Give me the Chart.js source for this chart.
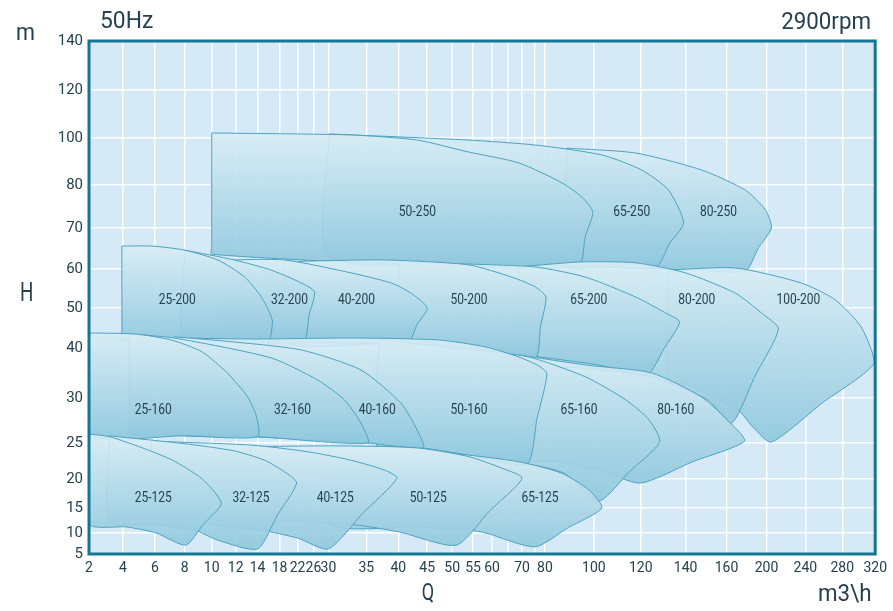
<!DOCTYPE html>
<html>
<head>
<meta charset="utf-8">
<title>50Hz 2900rpm</title>
<script src="https://cdn.jsdelivr.net/npm/chart.js"></script>
<style>
  html, body { margin: 0; padding: 0; background: #fff; }
  canvas { display: block; }
</style>
</head>
<body>
<canvas id="chart" width="893" height="611"></canvas>
<script>
// flow Q, m3\h
var qTicks = [2, 4, 6, 8, 10, 12, 14, 18, 22, 26, 30, 35, 40, 45, 50, 55, 60, 65, 70, 75, 80, 100, 120, 140, 160, 200, 240, 280, 320];
var qHidden = [65, 75];
// head H, m
var hTicks = [5, 10, 15, 20, 25, 30, 40, 50, 60, 70, 80, 100, 120, 140];

// the axes of the sheet are not uniform, so each tick gets its own place (0..1)
var qTickPos = [0, 34, 66, 96, 123, 147, 169, 191, 209, 225, 240, 278, 310, 339, 364, 385, 404, 420, 434, 447, 457, 506, 553, 598, 639, 679, 718, 755, 788].map(function (v) { return v / 788; });
var hTickPos = [0, 21, 46, 75, 111, 156, 206, 246, 285, 326, 369, 416, 464, 513].map(function (v) { return v / 513; });

// pump outlines: top curve left->right, end of range, bottom curve right->left
var q25_125 = [2, 3.2, 5.25, 7.2, 9.1, 10.1, 10.8, 9.37, 8.07, 6.1, 4.25, 2];
var h25_125 = [26, 25.7, 24.3, 22.6, 20.3, 18.1, 15.7, 11.7, 7.1, 10, 11.2, 11.8];
var q32_125 = [3.2, 8, 11.9, 15.3, 19.1, 21.8, 17.5, 14, 10.5, 8.7, 5.7, 3.2];
var h32_125 = [25.8, 24.9, 23.9, 22.6, 21, 19.3, 13.4, 6.2, 8.3, 10.6, 11.8, 12.2];
var q40_125 = [5.8, 13.5, 25, 33, 37.8, 39.8, 34.5, 30, 22, 14.4, 9.1, 5.8];
var h40_125 = [25.2, 24.7, 23.75, 22.6, 21.25, 20.1, 13.9, 6.2, 8.8, 10.6, 11.8, 12.2];
var q50_125 = [13.3, 32.8, 43.6, 54, 63.1, 70, 59.2, 51, 40.2, 33.7, 22.5, 13.3];
var h50_125 = [24.5, 24.6, 24.3, 23.1, 21.5, 20.1, 14.3, 7.1, 10.2, 11.6, 12.4, 12.8];
var q65_125 = [30.1, 40.2, 50, 68.9, 86.9, 98, 103.4, 89.6, 75, 58.4, 54, 43.6, 30.1];
var h65_125 = [24.4, 24.5, 23.6, 22.4, 20.8, 18.1, 15, 11.1, 6.7, 10, 10.6, 11.2, 11.8];

var q25_160 = [2, 4.75, 7.1, 9.3, 11.3, 13.1, 13.9, 14, 8, 2];
var h25_160 = [43.75, 43.5, 42, 39.2, 35, 30.2, 27.9, 25.7, 25.8, 26];
var q32_160 = [4.4, 7.3, 16.5, 27.1, 32.1, 34.3, 35.2, 14, 7.3, 4.4, 4.4];
var h32_160 = [43.5, 42.5, 38, 33.6, 29.8, 27.2, 25, 25.7, 25.9, 26, 27];
var q40_160 = [7.3, 11.9, 23, 34.3, 40.5, 43.3, 44.3, 35.2, 13.3, 7.3, 7.3];
var h40_160 = [42.8, 41.5, 39.6, 35.6, 29.4, 26.4, 24.3, 25, 25.7, 25.9, 27];
var q50_160 = [7.3, 14, 33, 47.4, 58.4, 68.9, 77, 80.8, 76, 71.9, 54, 44.3, 22.5, 7.3, 7.3];
var h50_160 = [42.5, 42.25, 42.5, 42, 40.25, 38.2, 36.4, 34.8, 27.7, 22.1, 23.3, 24.3, 25.8, 26, 27];
var q65_160 = [37, 55.8, 72.7, 96.7, 113.6, 123.6, 128.4, 115.1, 102.1, 87.8, 71.9, 54, 37];
var h65_160 = [42, 39.6, 38.2, 34.2, 29.8, 27.6, 25.1, 21, 16.2, 20.8, 22.1, 23.3, 24];
var q80_160 = [68.9, 96.7, 124.9, 147.8, 164, 178, 143.4, 120, 102.1, 85.7, 68.9];
var h80_160 = [38.6, 36.6, 35, 30.2, 27.2, 25.2, 22.4, 19.3, 21.25, 22.4, 23];

var q25_200 = [3.94, 5.8, 8, 10.5, 12.8, 14.7, 16.2, 16.7, 15.8, 9.1, 3.94, 3.94];
var h25_200 = [65.6, 65.6, 64.6, 62.2, 58, 52.8, 48.75, 46.5, 41.5, 41.5, 41.5, 44.5];
var q32_200 = [8, 11.9, 16.5, 23, 26.3, 24.9, 23.5, 15.8, 8];
var h32_200 = [64.6, 62.2, 59.7, 56.4, 54.1, 48.25, 41.5, 41.5, 41.5];
var q40_200 = [11.1, 19.1, 33, 38.9, 42.2, 45, 43.3, 41.6, 22.25, 11.1];
var h40_200 = [62.2, 62.2, 59, 56.4, 53.8, 50, 46, 41.5, 41.5, 41.5];
var q50_200 = [19.1, 37.8, 54, 66.4, 75.2, 80.4, 77.75, 75, 54, 40.2, 19.1];
var h50_200 = [61.8, 62.2, 61, 57.9, 55.4, 52.8, 45.4, 38, 39.6, 41.25, 41.5];
var q65_200 = [40.2, 54, 75.2, 96.7, 117.9, 131.1, 137.3, 130.4, 122.7, 102.1, 77, 54, 40.2];
var h65_200 = [61.7, 61.2, 60.5, 57.9, 52.8, 48.75, 46.5, 39.9, 34.6, 36.6, 38.2, 39.6, 40.75];
var q80_200 = [68.9, 93.9, 117.9, 140, 169, 195, 212.3, 188.5, 165, 150.7, 123.6, 93.9, 68.9];
var h80_200 = [60.5, 61.7, 61.5, 59, 53.8, 48.75, 44.75, 34.4, 27.2, 29.8, 34.4, 36, 37.6];
var q100_200 = [132.4, 169, 235.9, 272.4, 303, 318.8, 258.9, 205.1, 187, 174, 156, 141.5, 132.4];
var h100_200 = [59.75, 60.25, 56.4, 52.1, 45.25, 37, 29.5, 25.1, 26.7, 28.4, 29.8, 32.6, 33.6];

var q50_250 = [10, 33, 43.3, 54, 68.9, 87, 95.1, 99.6, 96.5, 93.5, 40.2, 10, 10];
var h50_250 = [102.1, 101.25, 99.1, 94, 89.4, 80.9, 77.2, 73.7, 68, 60.7, 61.2, 63.6, 65.4];
var q65_250 = [30.1, 54, 75.2, 103.4, 120.4, 132.4, 139.1, 132.9, 126.8, 102.1, 62.2, 30.1];
var h65_250 = [101.7, 99.1, 97, 92.8, 86.4, 78.8, 71.2, 66.3, 60.5, 60.7, 61.5, 63];
var q80_250 = [89, 117.9, 147.8, 179, 199, 205.1, 192, 179, 146.3, 102.1, 89];
var h80_250 = [95.7, 93.6, 86.4, 78.8, 74.2, 70, 65.2, 59.5, 59.7, 60.5, 60.7];

// pump names and where their names are written (Q, H)
var pumpNames = ['25-125', '32-125', '40-125', '50-125', '65-125',
                 '25-160', '32-160', '40-160', '50-160', '65-160', '80-160',
                 '25-200', '32-200', '40-200', '50-200', '65-200', '80-200', '100-200',
                 '50-250', '65-250', '80-250'];
var labelQ = [5.9, 13.4, 30.9, 45.2, 77.5,
              5.9, 20.9, 36.7, 54, 93.9, 135.6,
              7.5, 20.2, 33.7, 54, 97.9, 145.4, 232.8,
              43.3, 116.2, 156.1];
var labelH = [16.6, 16.6, 16.6, 16.6, 16.6,
              28.6, 28.6, 28.6, 28.6, 28.6, 28.6,
              52, 52, 52, 52, 52, 52, 52,
              73.7, 73.7, 73.7];

var outlines = [
  [q25_125, h25_125], [q32_125, h32_125], [q40_125, h40_125], [q50_125, h50_125], [q65_125, h65_125],
  [q25_160, h25_160], [q32_160, h32_160], [q40_160, h40_160], [q50_160, h50_160], [q65_160, h65_160], [q80_160, h80_160],
  [q25_200, h25_200], [q32_200, h32_200], [q40_200, h40_200], [q50_200, h50_200], [q65_200, h65_200], [q80_200, h80_200], [q100_200, h100_200],
  [q50_250, h50_250], [q65_250, h65_250], [q80_250, h80_250]
];

var AXIS_MAP = { x: { ticks: qTicks, pos: qTickPos }, y: { ticks: hTicks, pos: hTickPos } };

function interp(v, from, to) {
  var n = from.length, i = 0;
  if (v >= from[n - 1]) i = n - 2;
  else while (i < n - 2 && v > from[i + 1]) i++;
  return to[i] + (v - from[i]) / (from[i + 1] - from[i]) * (to[i + 1] - to[i]);
}

// linear scale whose ticks sit where the sheet puts them
class KnotScale extends Chart.LinearScale {
  buildTicks() {
    return AXIS_MAP[this.axis].ticks.map(function (v) { return { value: v }; });
  }
  getPixelForValue(value) {
    var a = AXIS_MAP[this.axis];
    return this.getPixelForDecimal(interp(value, a.ticks, a.pos));
  }
  getValueForPixel(pixel) {
    var a = AXIS_MAP[this.axis];
    return interp(this.getDecimalForPixel(pixel), a.pos, a.ticks);
  }
}
KnotScale.id = 'knot';
KnotScale.defaults = {};
Chart.register(KnotScale);

var FONT = 'Roboto, "Open Sans", sans-serif';
var TEXT = '#26414e';

function shapeFill(c) {
  var chart = c.chart, ds = c.dataset;
  if (!chart.chartArea || !ds) return 'rgba(180,218,232,0.9)';
  var y = chart.scales.y;
  var top = y.getPixelForValue(ds.hTop), bottom = y.getPixelForValue(ds.hBottom);
  var g = chart.ctx.createLinearGradient(0, top, 0, bottom);
  g.addColorStop(0, 'rgba(216,237,244,0.9)');
  g.addColorStop(1, 'rgba(144,200,222,0.92)');
  return g;
}

var datasets = outlines.map(function (o, k) {
  var pts = o[0].map(function (q, i) { return { x: q, y: o[1][i] }; });
  pts.push(pts[0]);
  return {
    label: pumpNames[k],
    data: pts,
    hTop: Math.max.apply(null, o[1]),
    hBottom: Math.min.apply(null, o[1]),
    fill: 'shape',
    backgroundColor: shapeFill,
    borderColor: '#4ca3c1',
    borderWidth: 1,
    tension: 0.22,
    pointRadius: 0
  };
});

function drawText(ctx, str, x, y, size, sx, align) {
  ctx.save();
  ctx.font = size + 'px ' + FONT;
  ctx.fillStyle = TEXT;
  ctx.textAlign = align || 'left';
  ctx.textBaseline = 'alphabetic';
  ctx.translate(x, y);
  ctx.scale(sx, 1);
  ctx.fillText(str, 0, 0);
  ctx.restore();
}

var sheet = {
  id: 'sheet',
  beforeDraw: function (chart) {
    var ctx = chart.ctx, a = chart.chartArea;
    ctx.save();
    ctx.fillStyle = '#d6e9f6';
    ctx.fillRect(a.left, a.top, a.right - a.left, a.bottom - a.top);
    ctx.restore();
  },
  afterDatasetsDraw: function (chart) {
    var ctx = chart.ctx, x = chart.scales.x, y = chart.scales.y;
    ctx.save();
    ctx.font = '15px ' + FONT;
    ctx.fillStyle = TEXT;
    ctx.textAlign = 'center';
    ctx.textBaseline = 'middle';
    pumpNames.forEach(function (name, i) {
      ctx.save();
      ctx.translate(x.getPixelForValue(labelQ[i]), y.getPixelForValue(labelH[i]));
      ctx.scale(0.8, 1);
      ctx.fillText(name, 0, 0);
      ctx.restore();
    });
    ctx.restore();
  },
  afterDraw: function (chart) {
    var ctx = chart.ctx, a = chart.chartArea;
    ctx.save();
    ctx.strokeStyle = '#137694';
    ctx.lineWidth = 3;
    ctx.strokeRect(a.left, a.top, a.right - a.left, a.bottom - a.top);
    ctx.restore();
    drawText(ctx, '50Hz', 100, 28, 24, 0.95);
    drawText(ctx, '2900rpm', 871, 29, 24, 0.93, 'right');
    drawText(ctx, 'm', 16, 40, 24, 0.9);
    drawText(ctx, 'H', 20, 301, 25, 0.75);
    drawText(ctx, 'Q', 428, 600, 24, 0.75, 'center');
    drawText(ctx, 'm3\\h', 818, 601, 24, 0.93);
  }
};

new Chart(document.getElementById('chart'), {
  type: 'line',
  data: { datasets: datasets },
  plugins: [sheet],
  options: {
    responsive: false,
    animation: false,
    events: [],
    layout: { padding: { left: 0, top: 41, right: 16, bottom: 0 } },
    plugins: { legend: { display: false }, tooltip: { enabled: false }, title: { display: false } },
    scales: {
      x: {
        type: 'knot',
        min: 2,
        max: 320,
        afterFit: function (s) { s.height = 57; },
        border: { display: false },
        grid: { color: 'rgba(255,255,255,0.95)', lineWidth: 1.5, drawTicks: false },
        ticks: {
          autoSkip: false,
          maxRotation: 0,
          padding: 6,
          color: TEXT,
          font: { family: FONT, size: 14 },
          callback: function (v) { return qHidden.indexOf(v) >= 0 ? '' : String(v); }
        }
      },
      y: {
        type: 'knot',
        min: 5,
        max: 140,
        afterFit: function (s) { s.width = 89; },
        border: { display: false },
        grid: { color: 'rgba(255,255,255,0.95)', lineWidth: 1.5, drawTicks: false },
        ticks: {
          autoSkip: false,
          padding: 6,
          color: TEXT,
          font: { family: FONT, size: 15 },
          callback: function (v) { return String(v); }
        }
      }
    }
  }
});
</script>
</body>
</html>
